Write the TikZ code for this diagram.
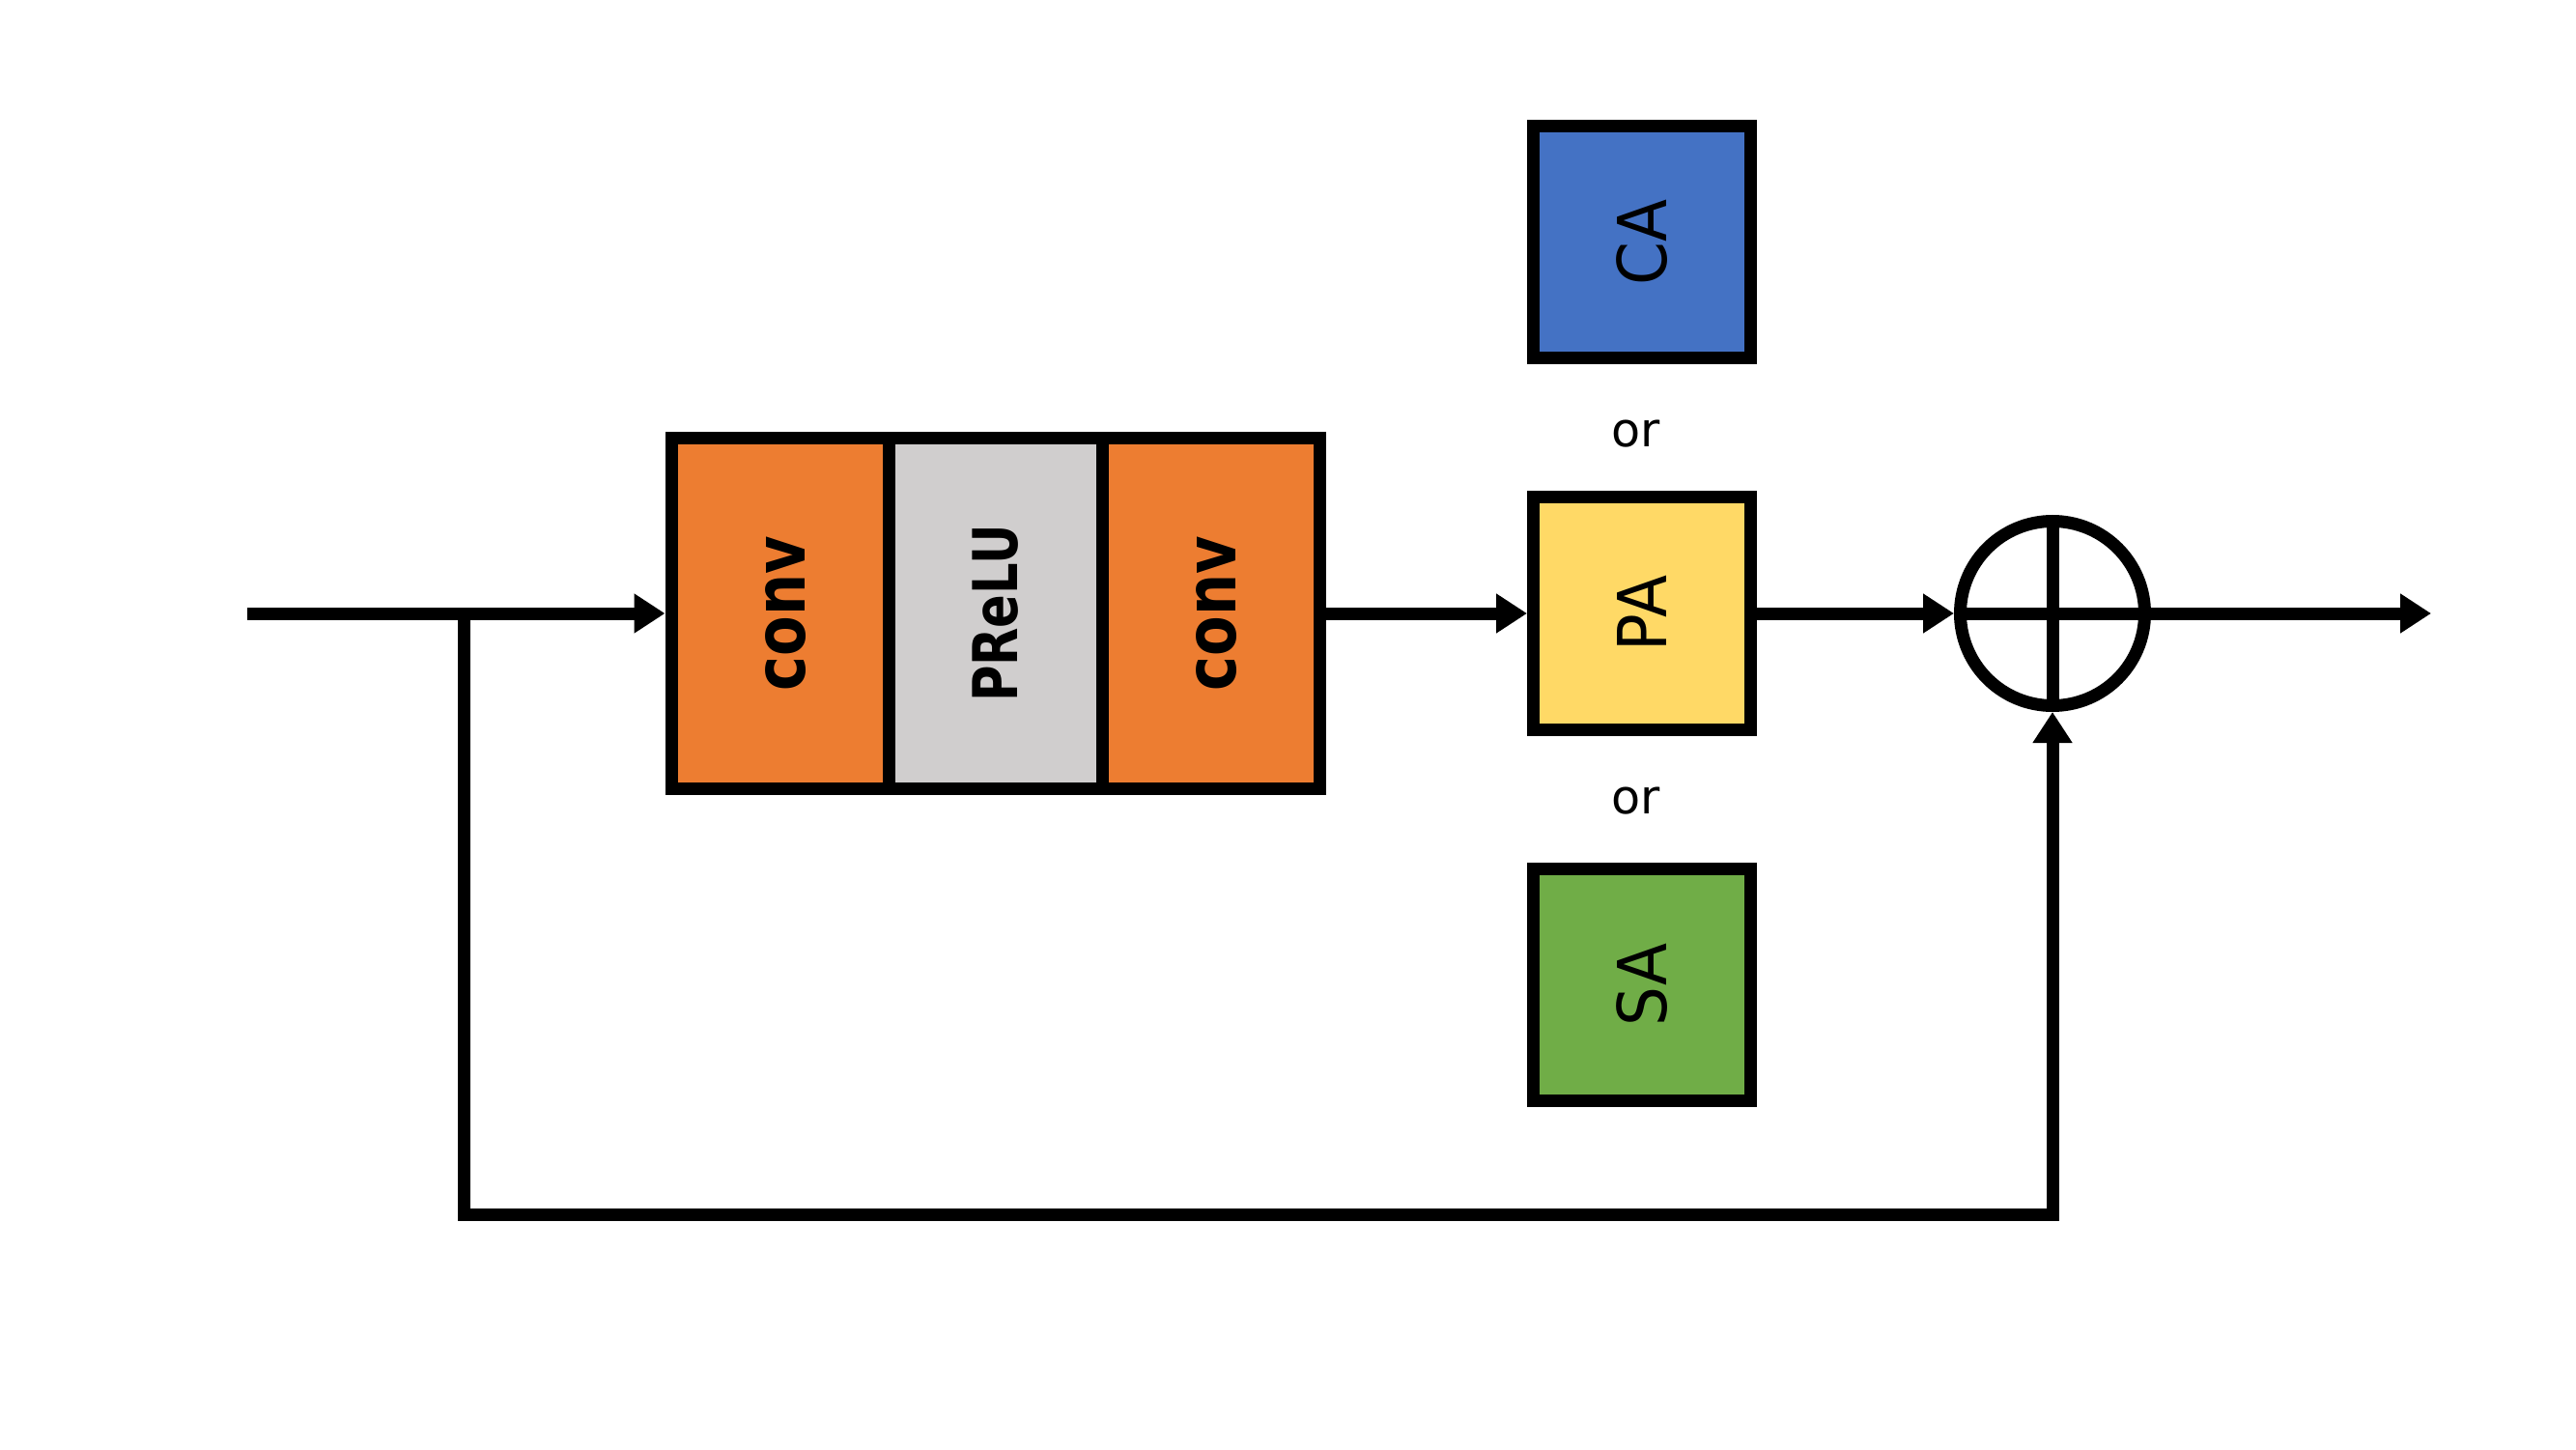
\documentclass[tikz,border=0pt]{standalone}
\usepackage{fontspec}
\setmainfont{DejaVu Sans}
\usepackage{graphicx}
\usetikzlibrary{arrows.meta, positioning, calc}
\definecolor{convorange}{HTML}{ED7D31}
\definecolor{actgray}{HTML}{D0CECE}
\definecolor{cablue}{HTML}{4472C4}
\definecolor{payellow}{HTML}{FFD966}
\definecolor{sagreen}{HTML}{70AD47}
\newcommand{\vlab}[2]{\rotatebox{90}{\scalebox{#1}[1]{\vphantom{A}#2}}}

\begin{document}
\begin{tikzpicture}[
  node distance=1.31cm,
  cell/.style={draw=black, line width=1.3mm, minimum width=2.25cm, minimum height=3.63cm, inner sep=0pt, font=\fontsize{20.8}{25}\selectfont\bfseries},
  att/.style={draw=black, line width=1.3mm, minimum width=2.25cm, minimum height=2.40cm, inner sep=0pt, font=\fontsize{19.9}{24}\selectfont},
  sumnode/.style={circle, draw=black, line width=1.3mm, minimum size=1.91cm, inner sep=0pt},
  ortext/.style={font=\fontsize{14}{17}\selectfont, inner sep=0pt},
  line/.style={line width=1.3mm},
  arrow/.style={line, -{Triangle[length=3.2mm, width=3.9mm]}}
]
  \useasboundingbox (0,0) rectangle (26.67,15);

  \coordinate (in) at (2.56,8.65);
  \coordinate (split) at (4.80,8.65);
  \coordinate (fb) at (4.80,2.43);
  \coordinate (out) at (25.17,8.65);

  % residual body
  \node[cell, fill=convorange] (conv1) at (8.075,8.65) {\vlab{0.83}{conv}};
  \node[cell, fill=actgray, minimum width=2.21cm, font=\fontsize{18.2}{22}\selectfont\bfseries, right=-1.3mm of conv1] (prelu) {\vlab{0.80}{PReLU}};
  \node[cell, fill=convorange, right=-1.3mm of prelu] (conv2) {\vlab{0.83}{conv}};

  % attention choices
  \node[att, fill=payellow] (pa) at (17.00,8.65) {\vlab{0.92}{PA}};
  \node[att, fill=cablue, above=of pa] (ca) {\vlab{0.92}{CA}};
  \node[att, fill=sagreen, below=of pa] (sa) {\vlab{0.92}{SA}};
  \node[ortext] (or1) at ($(ca)!0.5!(pa)+(-0.06,-0.06)$) {or};
  \node[ortext] (or2) at ($(pa)!0.5!(sa)+(-0.06,-0.02)$) {or};

  \node[sumnode] (sum) at (21.25,8.65) {};

  \draw[line] (in) -- (split);
  \draw[arrow] (split) -- (conv1);
  \draw[arrow] (split) -- (fb) -| (sum.south);
  \draw[arrow] (conv2) -- (pa);
  \draw[arrow] (pa) -- (sum);
  \draw[line] (sum.north) -- (sum.south);
  \draw[line] (sum.west) -- (sum.east);
  \draw[arrow] (sum) -- (out);
\end{tikzpicture}
\end{document}
